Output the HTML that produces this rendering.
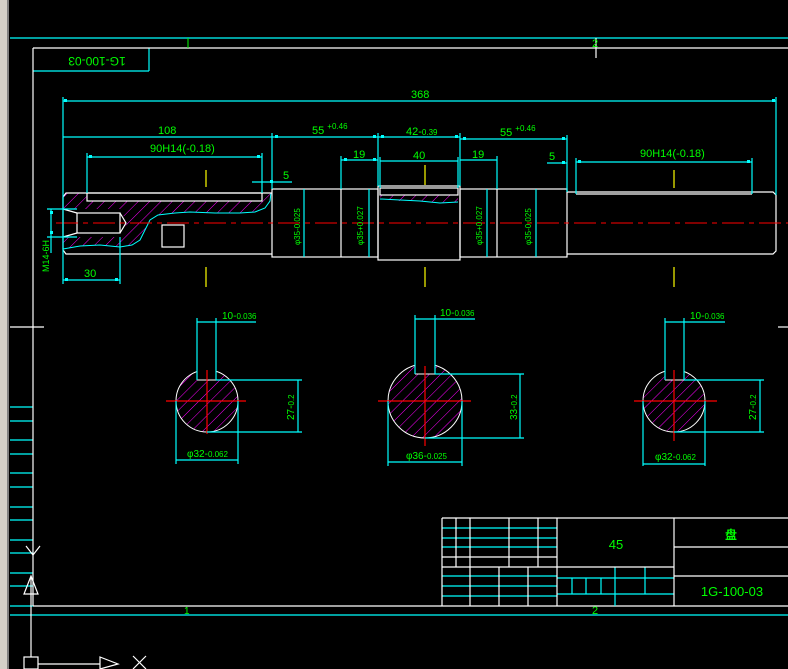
<!DOCTYPE html>
<html><head><meta charset="utf-8"><style>
html,body{margin:0;padding:0;background:#000;}
svg{display:block}
text{font-family:"Liberation Sans","Noto Sans CJK SC",sans-serif;fill:#00ff00;}
</style></head><body>
<svg width="788" height="669" viewBox="0 0 788 669" xmlns="http://www.w3.org/2000/svg">
<defs>
<pattern id="h" patternUnits="userSpaceOnUse" width="8" height="8" patternTransform="rotate(45)">
<line x1="0" y1="0" x2="0" y2="8" stroke="#ff00ff" stroke-width="1"/>
</pattern>
</defs>
<rect width="788" height="669" fill="#000"/>
<rect x="0" y="0" width="8" height="669" fill="#d4d0c8"/>
<rect x="7" y="0" width="2" height="669" fill="#808080"/>

<g stroke="#00ffff" stroke-width="1.2" fill="none">
<line x1="10" y1="38" x2="788" y2="38"/>
<line x1="10" y1="615" x2="788" y2="615"/>
<line x1="10" y1="407" x2="33" y2="407"/><line x1="10" y1="421" x2="33" y2="421"/>
<line x1="10" y1="440" x2="33" y2="440"/><line x1="10" y1="454" x2="33" y2="454"/>
<line x1="10" y1="473" x2="33" y2="473"/><line x1="10" y1="487" x2="33" y2="487"/>
<line x1="10" y1="507" x2="33" y2="507"/><line x1="10" y1="520" x2="33" y2="520"/>
<line x1="10" y1="540" x2="33" y2="540"/><line x1="10" y1="553" x2="33" y2="553"/>
<line x1="10" y1="573" x2="33" y2="573"/><line x1="10" y1="586" x2="33" y2="586"/>
<line x1="10" y1="606" x2="33" y2="606"/>
<line x1="33" y1="71" x2="149" y2="71"/><line x1="149" y1="48" x2="149" y2="71"/>
</g>
<g stroke="#fff" stroke-width="1.2" fill="none">
<line x1="33" y1="48" x2="788" y2="48"/>
<line x1="33" y1="48" x2="33" y2="606"/>
<line x1="33" y1="606" x2="788" y2="606"/>
<line x1="10" y1="327" x2="44" y2="327"/>
<line x1="778" y1="327" x2="788" y2="327"/>
<line x1="596" y1="38" x2="596" y2="58"/>
</g>
<line x1="188" y1="38" x2="188" y2="48" stroke="#00ff00"/>
<text x="592" y="47" font-size="11">2</text>
<text x="184" y="614" font-size="10">1</text>
<text x="592" y="614" font-size="11">2</text>
<text x="83" y="60" font-size="12" text-anchor="middle" transform="rotate(180 90 60)" dominant-baseline="middle">1G-100-03</text>

<path d="M63,197 L66,193 L87,193 L87,201 L262,201 L262,193 L271,193 L270,201 L265,208 L255,212 L240,213 L215,213 L190,212 L175,213 L158,215 L150,220 L146,228 L140,240 L132,245 L120,247 L100,245 L80,246 L63,249 Z" fill="url(#h)"/>
<path d="M63,249 L80,246 L100,245 L120,247 L132,245 L140,240 L146,228 L150,220 L158,215 L175,213 L190,212 L215,213 L240,213 L255,212 L265,208 L270,201 L271,193" fill="none" stroke="#00ffff"/>
<rect x="63" y="209" width="58" height="28" fill="#000"/>
<path d="M120,209 L127,223 L120,237 Z" fill="#000"/>
<path d="M380,195 L458,195 L458,202 L440,203 L420,201 L400,201 L380,199 Z" fill="url(#h)"/>
<path d="M380,199 L400,200 L420,201 L440,203 L458,202" fill="none" stroke="#00ffff"/>

<g stroke="#fff" stroke-width="1.2" fill="none">
<path d="M272,193 L66,193 L63,197 L63,250 L66,254 L272,254"/>
<rect x="87" y="193" width="175" height="8"/>
<rect x="77" y="213" width="43" height="20"/>
<path d="M120,213 L126,223 L120,233"/>
<path d="M63,209 L77,213 M63,237 L77,233"/>
<rect x="162" y="225" width="22" height="22"/>
<rect x="272" y="189" width="106" height="68"/>
<line x1="341" y1="189" x2="341" y2="257"/>
<rect x="378" y="186" width="82" height="74"/>
<rect x="380" y="188" width="78" height="7"/>
<rect x="460" y="189" width="107" height="68"/>
<line x1="497" y1="189" x2="497" y2="257"/>
<path d="M567,192 L773,192 L776,195 L776,251 L773,254 L567,254"/>
<line x1="576" y1="194" x2="752" y2="194"/>
</g>
<line x1="56" y1="223" x2="788" y2="223" stroke="#ff0000" stroke-dasharray="22,5,5,5"/>
<g stroke="#ffff00" stroke-width="1.2">
<line x1="206" y1="170" x2="206" y2="187"/><line x1="206" y1="267" x2="206" y2="287"/>
<line x1="425" y1="165" x2="425" y2="185"/><line x1="425" y1="267" x2="425" y2="287"/>
<line x1="674" y1="170" x2="674" y2="188"/><line x1="674" y1="267" x2="674" y2="287"/>
</g>

<g stroke="#00ffff" stroke-width="1.2" fill="none">
<line x1="63" y1="101" x2="776" y2="101"/>
<line x1="63" y1="97" x2="63" y2="284"/>
<line x1="776" y1="97" x2="776" y2="195"/>
<line x1="63" y1="137" x2="460" y2="137"/>
<line x1="272" y1="133" x2="272" y2="189"/>
<line x1="378" y1="133" x2="378" y2="186"/>
<line x1="460" y1="133" x2="460" y2="186"/>
<line x1="460" y1="139" x2="567" y2="139"/>
<line x1="567" y1="135" x2="567" y2="192"/>
<line x1="87" y1="157" x2="262" y2="157"/>
<line x1="87" y1="153" x2="87" y2="193"/>
<line x1="262" y1="153" x2="262" y2="193"/>
<line x1="341" y1="160" x2="378" y2="160"/><line x1="341" y1="156" x2="341" y2="189"/>
<line x1="380" y1="161" x2="458" y2="161"/><line x1="380" y1="157" x2="380" y2="188"/><line x1="458" y1="157" x2="458" y2="188"/>
<line x1="460" y1="160" x2="497" y2="160"/><line x1="497" y1="156" x2="497" y2="189"/>
<line x1="252" y1="182" x2="292" y2="182"/>
<line x1="547" y1="163" x2="567" y2="163"/>
<line x1="576" y1="162" x2="752" y2="162"/>
<line x1="576" y1="158" x2="576" y2="194"/><line x1="752" y1="158" x2="752" y2="194"/>
<line x1="63" y1="280" x2="120" y2="280"/><line x1="120" y1="237" x2="120" y2="284"/>
<line x1="47" y1="209" x2="77" y2="209"/><line x1="47" y1="237" x2="77" y2="237"/>
<line x1="51" y1="209" x2="51" y2="253"/>
<line x1="304" y1="189" x2="304" y2="257"/>
<line x1="369" y1="189" x2="369" y2="257"/>
<line x1="487" y1="189" x2="487" y2="257"/>
<line x1="536" y1="189" x2="536" y2="257"/>
</g>
<g fill="#00ffff">
<rect x="64" y="99" width="3" height="3"/><rect x="772" y="99" width="3" height="3"/>
<rect x="89" y="155" width="3" height="3"/><rect x="257" y="155" width="3" height="3"/>
<rect x="578" y="160" width="3" height="3"/><rect x="747" y="160" width="3" height="3"/>
<rect x="65" y="278" width="3" height="3"/><rect x="115" y="278" width="3" height="3"/>
<rect x="50" y="211" width="3" height="3"/><rect x="50" y="231" width="3" height="3"/>
<rect x="275" y="135" width="3" height="3"/><rect x="373" y="135" width="3" height="3"/>
<rect x="381" y="135" width="3" height="3"/><rect x="455" y="135" width="3" height="3"/>
<rect x="463" y="137" width="3" height="3"/><rect x="562" y="137" width="3" height="3"/>
<rect x="344" y="158" width="3" height="3"/><rect x="373" y="158" width="3" height="3"/>
<rect x="562" y="161" width="3" height="3"/><rect x="270" y="180" width="3" height="3"/>
</g>
<g font-size="11">
<text x="411" y="98">368</text>
<text x="158" y="134">108</text>
<text x="312" y="134">55 <tspan font-size="8" dy="-5">+0.46</tspan></text>
<text x="406" y="135">42-<tspan font-size="8">0.39</tspan></text>
<text x="500" y="136">55 <tspan font-size="8" dy="-5">+0.46</tspan></text>
<text x="150" y="152">90H14(-0.18)</text>
<text x="640" y="157">90H14(-0.18)</text>
<text x="353" y="158">19</text>
<text x="413" y="159">40</text>
<text x="472" y="158">19</text>
<text x="283" y="179">5</text>
<text x="549" y="160">5</text>
<text x="84" y="277">30</text>
<text font-size="9" transform="translate(49,272) rotate(-90)">M14-6H</text>
<text font-size="8" transform="translate(300,245) rotate(-90)">φ35-0.025</text>
<text font-size="8" transform="translate(363,245) rotate(-90)">φ35+0.027</text>
<text font-size="8" transform="translate(482,245) rotate(-90)">φ35+0.027</text>
<text font-size="8" transform="translate(531,245) rotate(-90)">φ35-0.025</text>
</g>

<g>
<circle cx="207" cy="401" r="31" fill="url(#h)" stroke="#fff"/>
<rect x="197" y="360" width="19" height="20" fill="#000"/>
<circle cx="425" cy="401" r="37" fill="url(#h)" stroke="#fff"/>
<rect x="415" y="355" width="20" height="19" fill="#000"/>
<circle cx="674" cy="401" r="31" fill="url(#h)" stroke="#fff"/>
<rect x="665" y="360" width="19" height="20" fill="#000"/>
</g>
<g stroke="#fff"><line x1="197" y1="380" x2="216" y2="380"/><line x1="415" y1="374" x2="435" y2="374"/><line x1="665" y1="380" x2="684" y2="380"/></g>
<g stroke="#ff0000" stroke-width="1.2">
<line x1="166" y1="401" x2="246" y2="401"/><line x1="207" y1="370" x2="207" y2="434"/>
<line x1="378" y1="401" x2="471" y2="401"/><line x1="425" y1="366" x2="425" y2="446"/>
<line x1="634" y1="401" x2="717" y2="401"/><line x1="674" y1="370" x2="674" y2="441"/>
</g>
<g stroke="#00ffff" stroke-width="1.2" fill="none">
<line x1="197" y1="318" x2="197" y2="380"/><line x1="216" y1="318" x2="216" y2="380"/><line x1="197" y1="322" x2="256" y2="322"/>
<line x1="216" y1="380" x2="302" y2="380"/><line x1="207" y1="432" x2="302" y2="432"/><line x1="298" y1="380" x2="298" y2="432"/>
<line x1="176" y1="401" x2="176" y2="464"/><line x1="238" y1="401" x2="238" y2="464"/><line x1="176" y1="460" x2="238" y2="460"/>
<line x1="415" y1="315" x2="415" y2="374"/><line x1="435" y1="315" x2="435" y2="374"/><line x1="415" y1="319" x2="475" y2="319"/>
<line x1="435" y1="374" x2="524" y2="374"/><line x1="425" y1="438" x2="524" y2="438"/><line x1="520" y1="374" x2="520" y2="438"/>
<line x1="388" y1="401" x2="388" y2="466"/><line x1="462" y1="401" x2="462" y2="466"/><line x1="388" y1="462" x2="462" y2="462"/>
<line x1="665" y1="318" x2="665" y2="380"/><line x1="684" y1="318" x2="684" y2="380"/><line x1="665" y1="322" x2="725" y2="322"/>
<line x1="684" y1="380" x2="764" y2="380"/><line x1="674" y1="432" x2="764" y2="432"/><line x1="760" y1="380" x2="760" y2="432"/>
<line x1="643" y1="401" x2="643" y2="466"/><line x1="705" y1="401" x2="705" y2="466"/><line x1="643" y1="464" x2="705" y2="464"/>
</g>
<g font-size="10">
<text x="222" y="319">10-<tspan font-size="8">0.036</tspan></text>
<text x="440" y="316">10-<tspan font-size="8">0.036</tspan></text>
<text x="690" y="319">10-<tspan font-size="8">0.036</tspan></text>
<text x="187" y="457">φ32-<tspan font-size="8">0.062</tspan></text>
<text x="406" y="459">φ36-<tspan font-size="8">0.025</tspan></text>
<text x="655" y="460">φ32-<tspan font-size="8">0.062</tspan></text>
<text transform="translate(294,420) rotate(-90)">27-<tspan font-size="8">0.2</tspan></text>
<text transform="translate(517,420) rotate(-90)">33-<tspan font-size="8">0.2</tspan></text>
<text transform="translate(756,420) rotate(-90)">27-<tspan font-size="8">0.2</tspan></text>
</g>

<g stroke="#00ffff" stroke-width="1.2">
<line x1="442" y1="528" x2="557" y2="528"/><line x1="442" y1="538" x2="557" y2="538"/><line x1="442" y1="547" x2="557" y2="547"/>
<line x1="442" y1="576" x2="557" y2="576"/><line x1="442" y1="586" x2="557" y2="586"/><line x1="442" y1="596" x2="557" y2="596"/>
<line x1="557" y1="578" x2="674" y2="578"/><line x1="557" y1="594" x2="674" y2="594"/>
<line x1="615" y1="567" x2="615" y2="606"/><line x1="645" y1="567" x2="645" y2="594"/>
<line x1="572" y1="578" x2="572" y2="594"/><line x1="586" y1="578" x2="586" y2="594"/><line x1="601" y1="578" x2="601" y2="594"/>
</g>
<g stroke="#fff" stroke-width="1.2" fill="none">
<line x1="442" y1="518" x2="788" y2="518"/>
<line x1="442" y1="518" x2="442" y2="606"/>
<line x1="456" y1="518" x2="456" y2="567"/><line x1="470" y1="518" x2="470" y2="606"/>
<line x1="509" y1="518" x2="509" y2="567"/><line x1="538" y1="518" x2="538" y2="567"/>
<line x1="499" y1="567" x2="499" y2="606"/><line x1="528" y1="567" x2="528" y2="606"/>
<line x1="557" y1="518" x2="557" y2="606"/>
<line x1="442" y1="557" x2="557" y2="557"/>
<line x1="442" y1="567" x2="674" y2="567"/>
<line x1="674" y1="518" x2="674" y2="606"/>
<line x1="674" y1="547" x2="788" y2="547"/>
<line x1="674" y1="576" x2="788" y2="576"/>
</g>
<text x="616" y="549" font-size="13" text-anchor="middle">45</text>
<text x="731" y="539" font-size="12" text-anchor="middle" font-weight="bold">盘</text>
<text x="732" y="596" font-size="13" text-anchor="middle">1G-100-03</text>

<g stroke="#fff" stroke-width="1.2" fill="none">
<line x1="31" y1="577" x2="31" y2="657"/>
<rect x="24" y="657" width="14" height="12"/>
<line x1="38" y1="664" x2="100" y2="664"/>
<path d="M100,657 L118,664 L100,669 Z"/>
<path d="M24,594 L31,576 L38,594 Z"/>
<path d="M26,546 L33,555 L40,546"/>
<path d="M133,656 L146,669 M146,656 L133,669"/>
</g>
</svg>
</body></html>
